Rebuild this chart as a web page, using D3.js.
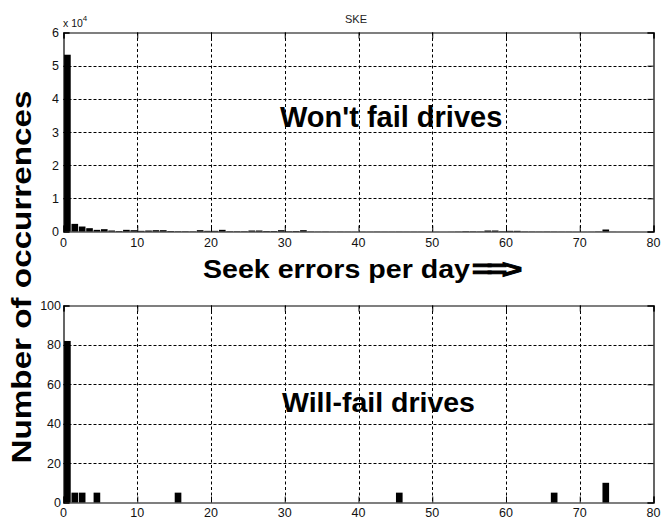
<!DOCTYPE html>
<html>
<head>
<meta charset="utf-8">
<script src="https://cdn.jsdelivr.net/npm/d3@7"></script>
<style>
  body { margin: 0; background: #fff; }
  svg { display: block; }
</style>
</head>
<body>
<svg id="chart" width="661" height="519"></svg>
<script>
// Seek errors per day, one histogram bin per integer value
const bins = d3.range(0, 80);

// Occurrences per bin for drives that will not fail
const wontFail = [
  53300, 2300, 1500, 1000, 500, 700, 300, 150, 500, 400,
  200, 300, 400, 400, 150, 100, 100, 80, 400, 200,
  200, 500, 100, 100, 100, 300, 300, 150, 150, 400,
  100, 150, 400, 60, 40, 50, 30, 40, 30, 20,
  30, 20, 30, 20, 20, 30, 20, 20, 20, 10,
  20, 10, 20, 40, 100, 80, 60, 300, 300, 100,
  200, 200, 60, 50, 40, 50, 40, 30, 30, 20,
  20, 20, 60, 600, 20, 10, 10, 10, 0, 0
];

// Occurrences per bin for drives that will fail
const willFail = [
  82, 5, 5, 0, 5, 0, 0, 0, 0, 0,
  0, 0, 0, 0, 0, 5, 0, 0, 0, 0,
  0, 0, 0, 0, 0, 0, 0, 0, 0, 0,
  0, 0, 0, 0, 0, 0, 0, 0, 0, 0,
  0, 0, 0, 0, 0, 5, 0, 0, 0, 0,
  0, 0, 0, 0, 0, 0, 0, 0, 0, 0,
  0, 0, 0, 0, 0, 0, 5, 0, 0, 0,
  0, 0, 0, 10, 0, 0, 0, 0, 0, 0
];

const xTicks = [0, 10, 20, 30, 40, 50, 60, 70, 80];
const topTicks = [0, 10000, 20000, 30000, 40000, 50000, 60000];
const bottomTicks = [0, 20, 40, 60, 80, 100];

const svg = d3.select("#chart");
const FONT = "'Liberation Sans', Arial, Helvetica, sans-serif";

function drawPanel(cfg) {
  const { left, right, top, bottom, yMax, yTicks, yFormat, values, xLabelY, yLabelX } = cfg;
  const x = d3.scaleLinear().domain([0, 80]).range([left, right]);
  const y = d3.scaleLinear().domain([0, yMax]).range([bottom, top]);
  const g = svg.append("g");

  // dotted grid
  g.append("g").selectAll("line")
    .data(xTicks.filter(t => t > 0 && t < 80))
    .join("line")
    .attr("x1", d => Math.round(x(d)) + 0.5).attr("x2", d => Math.round(x(d)) + 0.5)
    .attr("y1", top).attr("y2", bottom)
    .attr("stroke", "#000").attr("stroke-width", 1).attr("stroke-dasharray", "3,2.5");
  g.append("g").selectAll("line")
    .data(yTicks.filter(t => t > 0 && t < yMax))
    .join("line")
    .attr("x1", left).attr("x2", right)
    .attr("y1", d => Math.round(y(d)) + 0.5).attr("y2", d => Math.round(y(d)) + 0.5)
    .attr("stroke", "#000").attr("stroke-width", 1).attr("stroke-dasharray", "3,2");

  // histogram bars
  g.append("g").selectAll("rect")
    .data(bins.filter(k => values[k] > 0))
    .join("rect")
    .attr("x", k => x(k + 0.08))
    .attr("width", k => x(k + 0.98) - x(k + 0.08))
    .attr("y", k => y(values[k]))
    .attr("height", k => y(0) - y(values[k]))
    .attr("fill", "#000");

  // axis box with inward ticks
  g.append("g").attr("transform", `translate(0,${bottom})`)
    .call(d3.axisBottom(x).tickValues(xTicks).tickSize(-6).tickFormat(""));
  g.append("g").attr("transform", `translate(0,${top})`)
    .call(d3.axisTop(x).tickValues(xTicks).tickSize(-6).tickFormat(""));
  g.append("g").attr("transform", `translate(${left},0)`)
    .call(d3.axisLeft(y).tickValues(yTicks).tickSize(-6).tickFormat(""));
  g.append("g").attr("transform", `translate(${right},0)`)
    .call(d3.axisRight(y).tickValues(yTicks).tickSize(-6).tickFormat(""));
  g.selectAll(".domain").attr("stroke", "#000").attr("stroke-width", 1.2);
  g.selectAll(".tick line").attr("stroke", "#000");

  // tick labels
  g.append("g").selectAll("text")
    .data(xTicks).join("text")
    .attr("x", d => x(d)).attr("y", xLabelY)
    .attr("text-anchor", "middle")
    .attr("font-family", FONT).attr("font-size", 12.5).attr("fill", "#111")
    .text(d => d);
  g.append("g").selectAll("text")
    .data(yTicks).join("text")
    .attr("x", yLabelX).attr("y", d => y(d)).attr("dy", "0.36em")
    .attr("text-anchor", "end")
    .attr("font-family", FONT).attr("font-size", 12.5).attr("fill", "#111")
    .text(yFormat);
  return { x, y };
}

// upper panel: drives that will not fail
drawPanel({
  left: 63.5, right: 653.5, top: 32.5, bottom: 231.5,
  yMax: 60000, yTicks: topTicks, yFormat: d => d / 10000,
  values: wontFail, xLabelY: 246.5, yLabelX: 59
});

// lower panel: drives that will fail
drawPanel({
  left: 63.5, right: 653.5, top: 305.5, bottom: 502.5,
  yMax: 100, yTicks: bottomTicks, yFormat: d => d,
  values: willFail, xLabelY: 516.5, yLabelX: 61
});

// exponent marker for the upper y axis
const exp = svg.append("text")
  .attr("x", 63).attr("y", 27)
  .attr("font-family", FONT).attr("font-size", 10.5).attr("fill", "#111");
exp.append("tspan").text("x 10");
exp.append("tspan").attr("dy", -6).attr("font-size", 8).text("4");

// panel title
svg.append("text")
  .attr("x", 356).attr("y", 23).attr("text-anchor", "middle")
  .attr("font-family", FONT).attr("font-size", 11).attr("fill", "#222")
  .text("SKE");

// in-plot annotations
svg.append("text")
  .attr("x", 280).attr("y", 127)
  .attr("font-family", FONT).attr("font-weight", "bold").attr("font-size", 29)
  .attr("fill", "#000")
  .text("Won't fail drives");
svg.append("text")
  .attr("x", 282).attr("y", 412)
  .attr("font-family", FONT).attr("font-weight", "bold").attr("font-size", 28.5)
  .attr("fill", "#000")
  .text("Will-fail drives");

// shared x-axis label with arrow
svg.append("text")
  .attr("x", 203).attr("y", 278)
  .attr("font-family", FONT).attr("font-weight", "bold").attr("font-size", 25)
  .attr("textLength", 267).attr("lengthAdjust", "spacingAndGlyphs")
  .attr("fill", "#000")
  .text("Seek errors per day");
svg.append("text")
  .attr("transform", "translate(472,278) scale(1.4,1)")
  .attr("font-family", FONT).attr("font-weight", "bold").attr("font-size", 25)
  .attr("letter-spacing", -4)
  .attr("fill", "#000").attr("stroke", "#000").attr("stroke-width", 1)
  .text("==>");

// shared y-axis label
svg.append("text")
  .attr("transform", "translate(31,277) rotate(-90)")
  .attr("text-anchor", "middle")
  .attr("font-family", FONT).attr("font-weight", "bold").attr("font-size", 28)
  .attr("textLength", 373).attr("lengthAdjust", "spacingAndGlyphs")
  .attr("fill", "#000")
  .text("Number of occurrences");
</script>
</body>
</html>
